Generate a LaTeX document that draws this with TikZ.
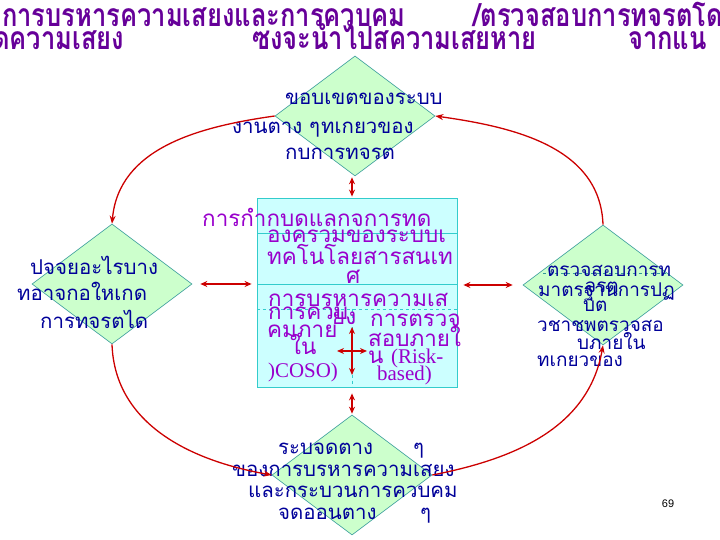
\documentclass[tikz,border=0pt]{standalone}
\usepackage{fontspec}
\usetikzlibrary{shapes.geometric,arrows.meta}
\newfontfamily\thai[Script=Thai]{Loma}
\newfontfamily\lser{Liberation Serif}
\newfontfamily\lsans{Liberation Sans}
\definecolor{ttl}{HTML}{660099}
\definecolor{nav}{HTML}{000099}
\definecolor{mag}{HTML}{9900CC}
\definecolor{dfill}{HTML}{CCFFCC}
\definecolor{dline}{HTML}{339999}
\definecolor{bfill}{HTML}{CCFFFF}
\definecolor{bline}{HTML}{33CCCC}
\definecolor{arr}{HTML}{CC0000}
\newcommand\tsq[1]{\scalebox{0.8}[1]{#1}}
\begin{document}
\begin{tikzpicture}[x=1bp,y=1bp,
 dia/.style={diamond, draw=dline, fill=dfill, line width=0.6bp, minimum width=160bp, minimum height=120bp, inner sep=0pt},
 nt/.style={anchor=base west, inner sep=0pt, text=nav, font=\thai\fontsize{20.5}{20.5}\selectfont},
 ntr/.style={nt, font=\thai\fontsize{19}{19}\selectfont},
 mt/.style={anchor=base west, inner sep=0pt, text=mag, font=\thai\fontsize{22.5}{22.5}\selectfont},
 tt/.style={anchor=base west, inner sep=0pt, text=ttl, font=\thai\bfseries\fontsize{32}{32}\selectfont},
 cyc/.style={draw=arr, line width=1.3bp, -{Stealth[length=8bp,width=6bp]}},
 dbl/.style={draw=arr, line width=1.3bp, {Stealth[length=7bp,width=6bp]}-{Stealth[length=7bp,width=6bp]}},
 cell/.style={draw=bline, line width=0.8bp},
]
\useasboundingbox (0,0) rectangle (720,540);
\clip (0,0) rectangle (720,540);
% shapes
\node[dia] (top) at (355,424) {};
\node[dia] (left) at (112,256) {};
\node[dia] (right) at (603,255) {};
\node[dia] (bot) at (352,65) {};
\node[draw=bline, fill=bfill, line width=0.8bp, minimum width=200bp, minimum height=189bp, inner sep=0pt] (box) at (357,247.5) {};
\coordinate (h1a) at (257,307); \coordinate (h1b) at (457,307);
\coordinate (h2a) at (257,256); \coordinate (h2b) at (457,256);
\coordinate (h3a) at (257,231); \coordinate (h3b) at (457,231);
\coordinate (v1a) at (352,231); \coordinate (v1b) at (352,153);
\draw[cell] (h1a) -- (h1b);
\draw[cell] (h2a) -- (h2b);
\draw[cell, dashed] (h3a) -- (h3b);
\draw[cell, dashed] (v1a) -- (v1b);
\coordinate (rda) at (543,267); \coordinate (rdb) at (667,267);
\draw[dline, dashed, line width=0.6bp] (rda) -- (rdb);
% title
\node[tt] (t1a) at (2,513) {\tsq{การบรหารความเสยงและการควบคม}};
\node[tt] (t1b) at (473,513) {\tsq{/ตรวจสอบการทจรตโด}};
\node[tt] (t2a) at (-7,490) {\tsq{ดความเสยง}};
\node[tt] (t2b) at (252,490) {\tsq{ซงจะนำไปสความเสยหาย}};
\node[tt] (t2c) at (628,490) {\tsq{จากแน}};
% top diamond text
\node[nt] (a1) at (285,435) {ขอบเขตของระบบ};
\node[nt] (a2) at (232,406) {งานตาง};
\node[nt] (a2b) at (309,406) {ๆ};
\node[nt] (a2c) at (321,406) {ทเกยวของ};
\node[nt] (a3) at (285,380) {กบการทจรต};
% left diamond text
\node[nt] (b1) at (30,265) {ปจจยอะไรบาง};
\node[nt] (b2) at (17,239) {ทอาจกอใหเกด};
\node[nt] (b3) at (40,211) {การทจรตได};
% right diamond text
\node[ntr] (c1) at (547,263) {ตรวจสอบการท};
\node[ntr] (c2) at (538,243) {มาตรฐานการปฏ};
\node[ntr] (c3) at (585,247) {จรต};
\node[ntr] (c4) at (583,228) {บต};
\node[ntr] (c5) at (537,208) {วชาชพตรวจสอ};
\node[ntr] (c6) at (577,190) {บภายใน};
\node[ntr] (c7) at (537,173) {ทเกยวของ};
% bottom diamond text
\node[nt] (d1) at (278,85) {ระบจดตาง};
\node[nt] (d1b) at (413,85) {ๆ};
\node[nt] (d2) at (232,63) {ของการบรหารความเสยง};
\node[nt] (d3) at (248,42) {และกระบวนการควบคม};
\node[nt] (d4) at (278,20) {จดออนตาง};
\node[nt] (d4b) at (420,20) {ๆ};
% box text
\node[mt] (m1) at (202,313) {การกำกบดแลกจการทด};
\node[mt] (m2) at (267,297) {องครวมของระบบเ};
\node[mt] (m3) at (267,275) {ทคโนโลยสารสนเท};
\node[mt] (m4) at (346,256) {ศ};
\node[mt] (m5) at (268,233) {การบรหารความเส};
\node[mt] (m6) at (268,220) {การควบ};
\node[mt] (m7) at (332,215) {ยง};
\node[mt] (m8) at (267,202) {คมภาย};
\node[mt] (m9) at (290,185) {ใน};
\node[mt, font=\lser\fontsize{21}{21}\selectfont] (m10) at (268,162) {)COSO)};
\node[mt] (m11) at (370,213) {การตรวจ};
\node[mt] (m12) at (368,193) {สอบภายใ};
\node[mt] (m13) at (368,176) {น {\lser\fontsize{21}{21}\selectfont(Risk-}};
\node[mt, font=\lser\fontsize{21}{21}\selectfont] (m14) at (377,159) {based)};
% cycle arrows
\draw[cyc] (top.west) to[out=188, in=85] (left.north);
\draw[cyc] (left.south) to[out=-88, in=170] (bot.west);
\draw[cyc] (bot.east) to[out=11, in=260] (right.south);
\draw[cyc] (right.north) to[out=92, in=-8] (top.east);
% double arrows
\draw[dbl, shorten >=1bp, shorten <=1bp] (top.south -| v1a) -- (box.north -| v1a);
\draw[dbl, shorten >=1bp, shorten <=6bp] (box.south -| v1a) -- (bot.north -| v1a);
\draw[dbl, shorten <=8bp, shorten >=5bp] (left.east) -- (left.east -| box.west);
\draw[dbl, shorten <=6bp, shorten >=10bp] (right.west -| box.east) -- (right.west);
\coordinate (xa) at (352,213); \coordinate (xb) at (352,165);
\coordinate (ya) at (337,189); \coordinate (yb) at (367,189);
\draw[dbl] (xa) -- (xb);
\draw[dbl] (ya) -- (yb);
\node[font=\lsans\fontsize{11}{11}\selectfont, inner sep=0pt] (pg) at (668,36) {69};
\end{tikzpicture}
\end{document}
